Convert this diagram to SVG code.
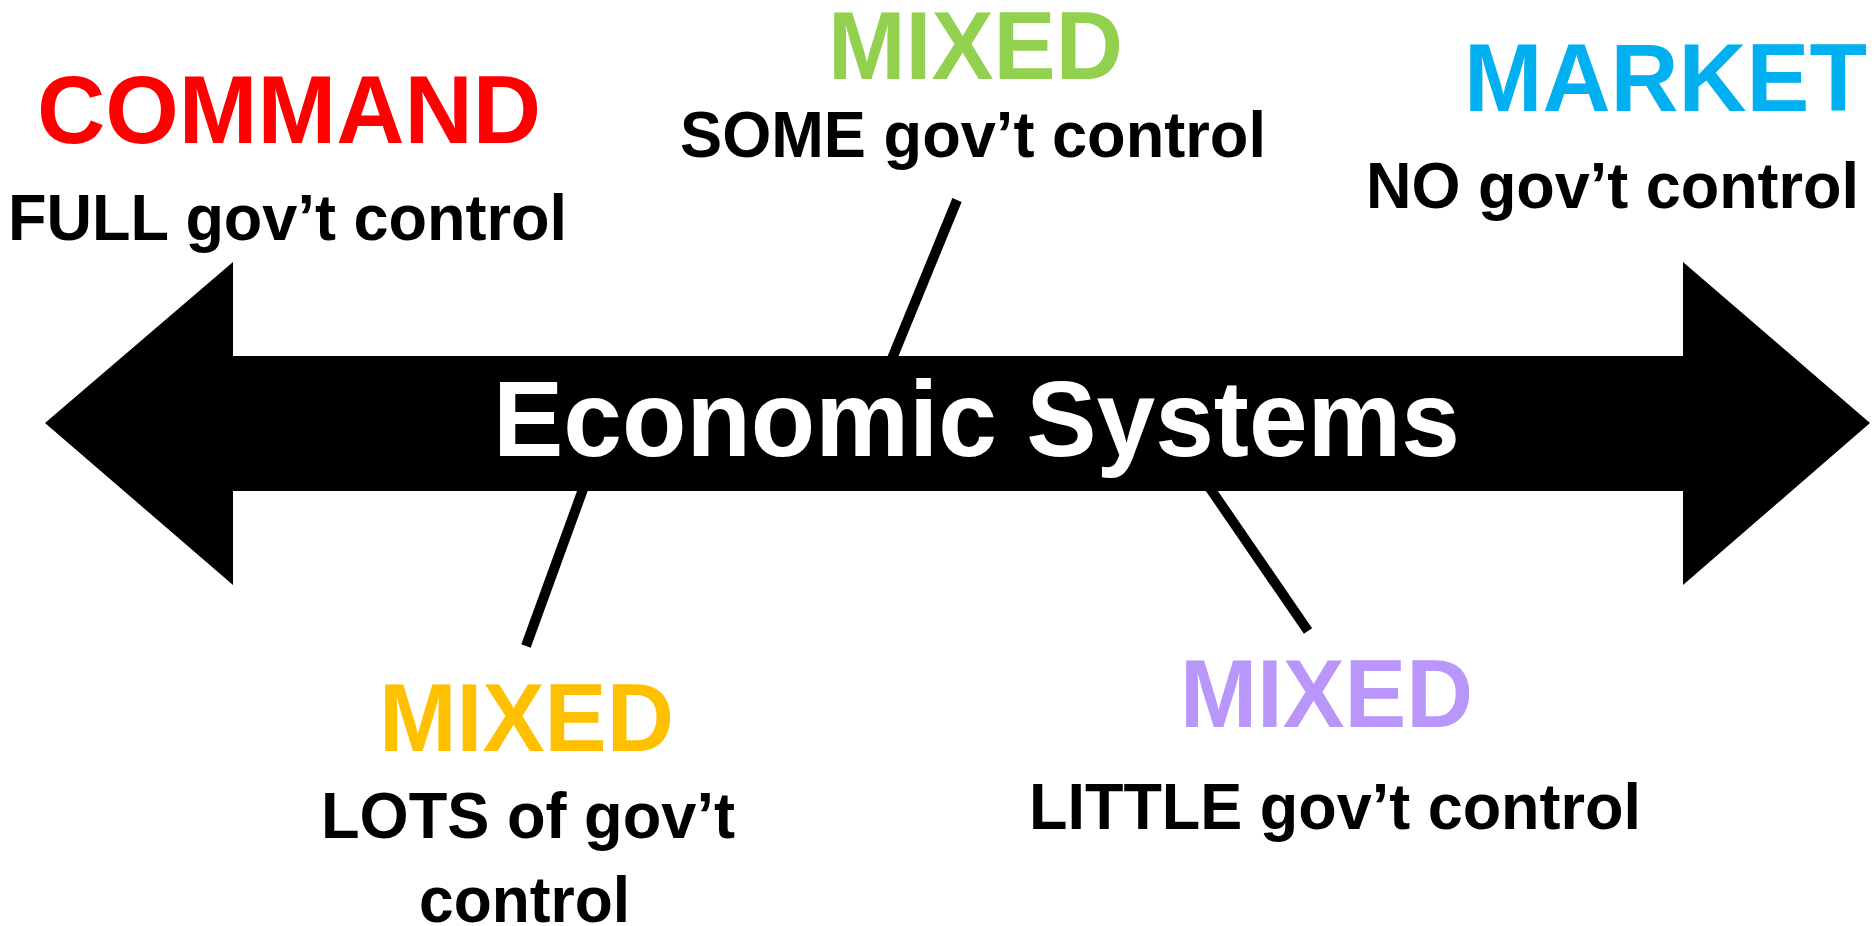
<svg xmlns="http://www.w3.org/2000/svg" width="1874" height="926" viewBox="0 0 1874 926">
<style>
text{font-family:"Liberation Sans",Arial,sans-serif;font-weight:bold}
.t{font-size:97px}
.s{font-size:65px;fill:#000}
.ln{stroke:#000;stroke-width:10;fill:none}
</style>
<rect width="1874" height="926" fill="#fff"/>
<g id="connectors">
<line class="ln" x1="957" y1="200" x2="889" y2="366"/>
<line class="ln" x1="526" y1="646" x2="586" y2="481"/>
<line class="ln" x1="1308" y1="631" x2="1205" y2="481"/>
</g>
<g id="arrow">
<polygon points="45,423 233,262 233,356 1683,356 1683,262 1870,423 1683,585 1683,491 233,491 233,585" fill="#000"/>
<text x="493" y="456" font-size="108" fill="#fff" textLength="967" lengthAdjust="spacingAndGlyphs">Economic Systems</text>
</g>
<g id="command">
<text class="t" x="37" y="143" fill="#FF0000" textLength="504" lengthAdjust="spacingAndGlyphs">COMMAND</text>
<text class="s" x="8" y="240" textLength="559" lengthAdjust="spacingAndGlyphs">FULL gov’t control</text>
</g>
<g id="mixed-some">
<text class="t" x="828" y="79" fill="#92D050" textLength="295" lengthAdjust="spacingAndGlyphs">MIXED</text>
<text class="s" x="680" y="157" textLength="586" lengthAdjust="spacingAndGlyphs">SOME gov’t control</text>
</g>
<g id="market">
<text class="t" x="1464" y="111" fill="#00B0F0" textLength="403" lengthAdjust="spacingAndGlyphs">MARKET</text>
<text class="s" x="1366" y="208" textLength="493" lengthAdjust="spacingAndGlyphs">NO gov’t control</text>
</g>
<g id="mixed-lots">
<text class="t" x="379" y="751" fill="#FFC000" textLength="295" lengthAdjust="spacingAndGlyphs">MIXED</text>
<text class="s" x="321" y="838" textLength="414" lengthAdjust="spacingAndGlyphs">LOTS of gov’t</text>
<text class="s" x="419" y="922" textLength="211" lengthAdjust="spacingAndGlyphs">control</text>
</g>
<g id="mixed-little">
<text class="t" x="1180" y="727" fill="#B996FA" textLength="293" lengthAdjust="spacingAndGlyphs">MIXED</text>
<text class="s" x="1029" y="829" textLength="612" lengthAdjust="spacingAndGlyphs">LITTLE gov’t control</text>
</g>
</svg>
